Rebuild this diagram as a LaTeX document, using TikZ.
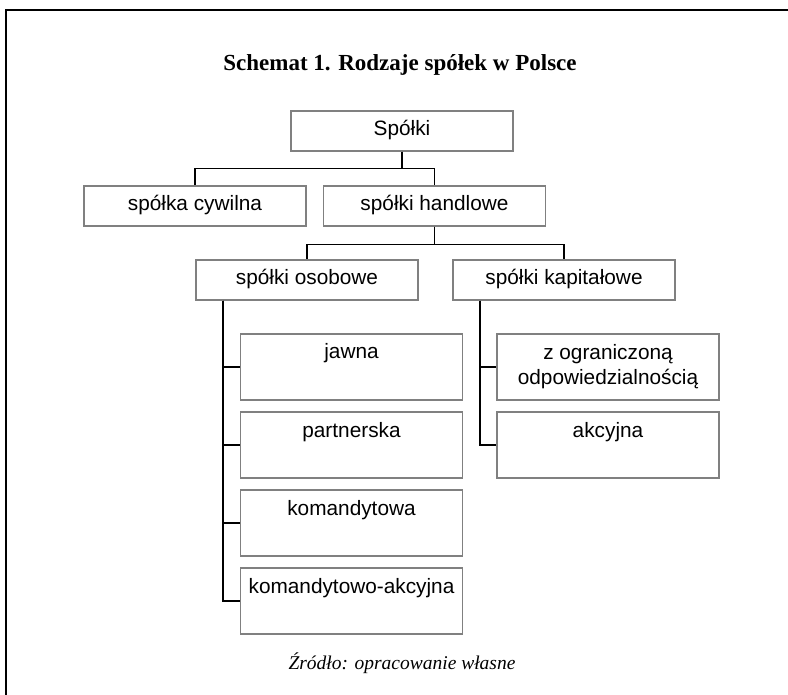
\documentclass[tikz,border=0pt]{standalone}
\usepackage{fontspec}
\setmainfont{Liberation Serif}
\setsansfont{Liberation Sans}
\begin{document}
\begin{tikzpicture}[x=1pt,y=-1pt,
  box/.style={draw=black!50, line width=1.2pt, fill=white, minimum width=222pt,
    inner xsep=2pt, inner ysep=10pt, font=\sffamily\fontsize{20.8}{25}\selectfont,
    text height=15pt, text depth=5pt},
  tallbox/.style={box, text depth=31pt},
  twobox/.style={draw=black!50, line width=1.2pt, fill=white, minimum width=222pt,
    minimum height=66pt, inner sep=2pt, align=center, font=\sffamily\fontsize{20.8}{25}\selectfont},
  conn/.style={draw=black, line width=1.3pt},
  frame/.style={draw=black, line width=2.4pt}]
\useasboundingbox (0,0) rectangle (788,695);
\begin{scope}
\clip (0,0) rectangle (788,695);
\coordinate (fb) at (6,720);
\coordinate (fc) at (6,10.3);
\coordinate (fr) at (820,10.3);
\draw[frame] (fb) -- (fc) -- (fr);
\end{scope}

\node[anchor=base, font=\bfseries\fontsize{23}{27}\selectfont] (title) at (400,70.7) {Schemat 1. Rodzaje spółek w Polsce};

\node[box] (spolki) at (402,131) {Spółki};
\node[box] (cywilna) at (195,206) {spółka cywilna};
\node[box] (handlowe) at (434.5,206) {spółki handlowe};
\node[box] (osobowe) at (307,280) {spółki osobowe};
\node[box] (kapitalowe) at (564,280) {spółki kapitałowe};

\node[tallbox] (jawna) at (351.5,367) {jawna};
\node[tallbox] (partnerska) at (351.5,445) {partnerska};
\node[tallbox] (komandytowa) at (351.5,523) {komandytowa};
\node[tallbox] (komakc) at (351.5,601) {komandytowo-akcyjna};

\node[twobox] (zoo) at (608,367) {z ograniczoną\\odpowiedzialnością};
\node[tallbox] (akcyjna) at (608,445) {akcyjna};

\draw[conn] (spolki.south) -- ++(0,17) -| (cywilna.north);
\draw[conn] (spolki.south) -- ++(0,17) -| (handlowe.north);
\draw[conn] (handlowe.south) -- ++(0,18) -| (osobowe.north);
\draw[conn] (handlowe.south) -- ++(0,18) -| (kapitalowe.north);

\coordinate (lt) at ([xshift=-84pt]osobowe.south);
\coordinate (rt) at ([xshift=-84pt]kapitalowe.south);
\draw[conn] (lt) |- (jawna.west);
\draw[conn] (lt) |- (partnerska.west);
\draw[conn] (lt) |- (komandytowa.west);
\draw[conn] (lt) |- (komakc.west);
\draw[conn] (rt) |- (zoo.west);
\draw[conn] (rt) |- (akcyjna.west);

\node[anchor=base, font=\itshape\fontsize{19.5}{23}\selectfont] (src) at (402,669) {Źródło: opracowanie własne};
\end{tikzpicture}
\end{document}
